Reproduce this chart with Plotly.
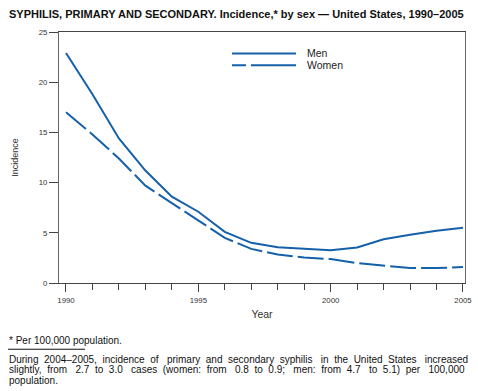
import plotly.graph_objects as go

years = list(range(1990, 2006))
men = [22.9, 18.8, 14.4, 11.2, 8.6, 7.1, 5.1, 4.0, 3.57, 3.43, 3.27, 3.53, 4.36, 4.8, 5.2, 5.5]
women = [17.0, 14.8, 12.4, 9.7, 7.95, 6.25, 4.5, 3.4, 2.84, 2.54, 2.38, 1.98, 1.72, 1.49, 1.49, 1.59]
x_ticks = [1990, 1995, 2000, 2005]
y_ticks = [0, 5, 10, 15, 20, 25]

BLUE = "#1561a9"
FONT = "Liberation Sans, Arial, Helvetica, sans-serif"

W, H = 478, 391
PL, PT, PR, PB = 59, 31.5, 465, 283.5   # plot area in window pixels
pw, ph = PR - PL, PB - PT

def px(x):
    return (x - PL) / pw

def py(y):
    return (PB - y) / ph

fig = go.Figure()
fig.add_trace(go.Scatter(x=years, y=men, mode="lines", name="Men",
                         line=dict(color=BLUE, width=2)))
fig.add_trace(go.Scatter(x=years, y=women, mode="lines", name="Women",
                         line=dict(color=BLUE, width=2, dash="26px,5px")))

fig.update_layout(
    width=W, height=H, autosize=False,
    margin=dict(l=PL, r=W - PR, t=PT, b=H - PB, pad=0, autoexpand=False),
    paper_bgcolor="white", plot_bgcolor="white",
    showlegend=False,
    font=dict(family=FONT, color="#222"),
    xaxis=dict(range=[1989.736, 2005.076], tickvals=x_ticks, ticktext=[str(v) for v in x_ticks],
               automargin=False,
               ticks="outside", ticklen=8, tickcolor="#444", tickwidth=1,
               minor=dict(dtick=1, tick0=1990, ticks="outside", ticklen=6, tickcolor="#444", tickwidth=1),
               showline=True, linecolor="#444", linewidth=1, mirror=True,
               showgrid=False, zeroline=False,
               tickfont=dict(size=7.8, color="#333"), ticklabelstandoff=2,
               title=dict(text="Year", font=dict(size=10.5, color="#333"), standoff=6)),
    yaxis=dict(range=[0, 25], tickvals=y_ticks, automargin=False,
               ticks="outside", ticklen=9, tickcolor="#444", tickwidth=1,
               showline=True, linecolor="#666", linewidth=1, mirror=True,
               showgrid=False, zeroline=False,
               tickfont=dict(size=7.8, color="#333"),
               title=dict(text="Incidence", font=dict(size=9, color="#333"), standoff=18)),
)

# legend drawn manually
fig.add_shape(type="line", xref="paper", yref="paper", x0=px(232), x1=px(296),
              y0=py(53), y1=py(53), line=dict(color=BLUE, width=2))
fig.add_shape(type="line", xref="paper", yref="paper", x0=px(232), x1=px(296),
              y0=py(65), y1=py(65), line=dict(color=BLUE, width=2, dash="14px,5px,50px,5px"))
fig.add_annotation(text="Men", xref="paper", yref="paper", x=px(305), y=py(52.5),
                   xanchor="left", yanchor="middle", showarrow=False, font=dict(size=10.5, color="#222"))
fig.add_annotation(text="Women", xref="paper", yref="paper", x=px(305), y=py(64.5),
                   xanchor="left", yanchor="middle", showarrow=False, font=dict(size=10.5, color="#222"))

# title
fig.add_annotation(text="<b>SYPHILIS, PRIMARY AND SECONDARY. Incidence,* by sex \u2014 United States, 1990\u20132005</b>",
                   xref="paper", yref="paper", x=px(7), y=py(13), xanchor="left", yanchor="middle",
                   showarrow=False, font=dict(size=11, color="#111"))

# footnotes
fig.add_annotation(text="* Per 100,000 population.", xref="paper", yref="paper",
                   x=px(7), y=py(341), xanchor="left", yanchor="middle",
                   showarrow=False, font=dict(size=10, color="#111"))
fig.add_shape(type="line", xref="paper", yref="paper", x0=px(8), x1=px(85),
              y0=py(350), y1=py(350), line=dict(color="#111", width=1))
NB = "\u00a0"
line1 = "During 2004\u20132005, incidence of primary and secondary syphilis in the United States increased"
line2 = "slightly, from 2.7 to 3.0 cases (women: from 0.8 to 0.9; men: from 4.7 to 5.1) per 100,000"
line3 = "population."

def justify(text, pattern):
    words = text.split(" ")
    out = words[0]
    for k, w in enumerate(words[1:]):
        out += " " + NB * pattern[k % len(pattern)] + w
    return out

j1 = justify(line1, [1, 1, 1, 2])
j2 = justify(line2, [1, 2, 1])
for i, t in enumerate([j1, j2, line3]):
    fig.add_annotation(text=t, xref="paper", yref="paper", x=px(7), y=py(360 + 10.8 * i),
                       xanchor="left", yanchor="middle", showarrow=False,
                       font=dict(size=10, color="#111"))

fig.write_html("out.html", config={"displayModeBar": False},
               post_script="document.body.style.margin='0px';document.body.style.overflow='hidden';")
